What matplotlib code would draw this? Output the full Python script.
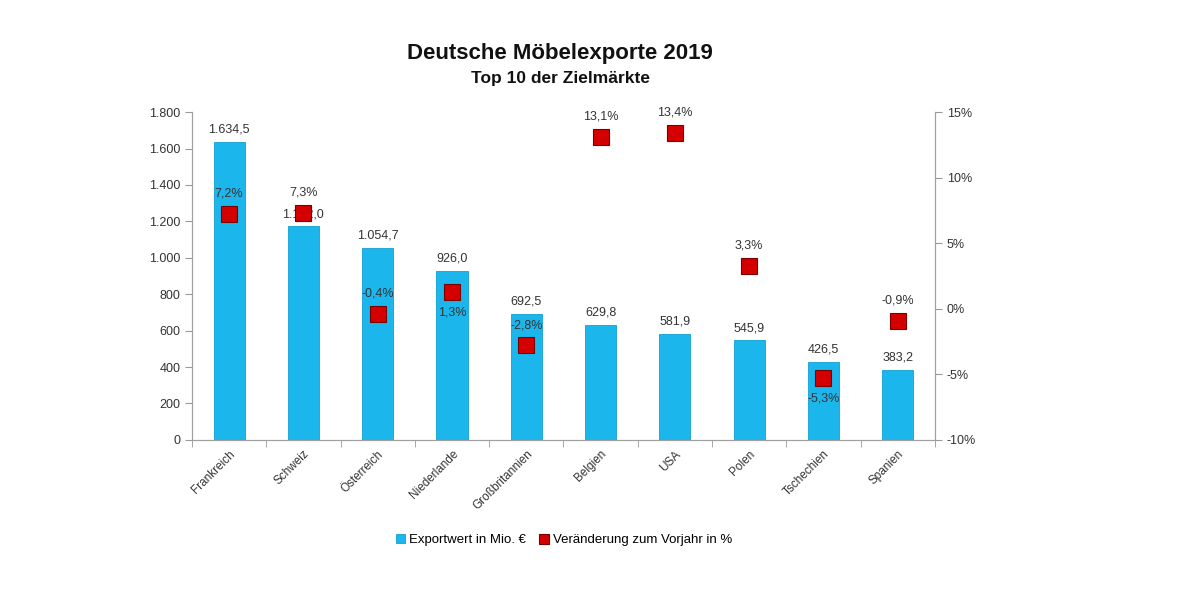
import numpy as np
import matplotlib.pyplot as plt
from matplotlib.ticker import FuncFormatter

plt.rcParams['font.family'] = ['Liberation Sans', 'DejaVu Sans']

# Daten
laender = ["Frankreich", "Schweiz", "Österreich", "Niederlande", "Großbritannien",
           "Belgien", "USA", "Polen", "Tschechien", "Spanien"]
exportwert = [1634.5, 1172.0, 1054.7, 926.0, 692.5, 629.8, 581.9, 545.9, 426.5, 383.2]
veraenderung = [7.2, 7.3, -0.4, 1.3, -2.8, 13.1, 13.4, 3.3, -5.3, -0.9]
label_unten = ["Niederlande", "Tschechien"]

def de_num(v, dec=1):
    s = f"{v:,.{dec}f}"
    return s.replace(",", "X").replace(".", ",").replace("X", ".")

fig = plt.figure(figsize=(12, 6), dpi=100)
ax = fig.add_axes([0.16, 0.267, 0.619, 0.546])
ax2 = ax.twinx()

x = np.arange(len(laender))
ax.bar(x, exportwert, width=0.42, color="#1AB6EC", edgecolor="#12A0D4",
       linewidth=0.6, zorder=2, label="Exportwert in Mio. €")
for xi, v in zip(x, exportwert):
    ax.text(xi, v + 35, de_num(v), ha="center", va="bottom", fontsize=9, color="#333333")

ax.set_ylim(0, 1800)
ax.set_yticks(np.arange(0, 1801, 200))
ax.yaxis.set_major_formatter(FuncFormatter(lambda v, p: de_num(v, 0)))
ax.set_xlim(-0.5, len(laender) - 0.5)
ax.set_xticks(x)
ax.set_xticklabels(laender, rotation=45, ha="right", rotation_mode="anchor",
                   fontsize=8.5, color="#333333")
ax.tick_params(axis="x", length=0, pad=6)
ax.set_xticks(np.arange(-0.5, len(laender)), minor=True)
ax.tick_params(axis="x", which="minor", length=5, color="#999999", direction="out")
ax.tick_params(axis="y", labelsize=9, colors="#333333", length=5, color="#999999")

ax2.plot(x, veraenderung, linestyle="none", marker="s", markersize=12,
         markerfacecolor="#D40000", markeredgecolor="#7A0000", markeredgewidth=0.8,
         zorder=3, label="Veränderung zum Vorjahr in %")
for xi, v, land in zip(x, veraenderung, laender):
    txt = de_num(v) + "%"
    if land in label_unten:
        ax2.text(xi, v - 1.1, txt, ha="center", va="top", fontsize=9, color="#333333")
    else:
        ax2.text(xi, v + 1.1, txt, ha="center", va="bottom", fontsize=9, color="#333333")
ax2.set_ylim(-10, 15)
ax2.set_yticks(np.arange(-10, 16, 5))
ax2.yaxis.set_major_formatter(FuncFormatter(lambda v, p: f"{v:.0f}%"))
ax2.tick_params(axis="y", labelsize=9, colors="#333333", length=5, color="#999999")

for a in (ax, ax2):
    a.spines["top"].set_visible(False)
    for s in ("left", "right", "bottom"):
        a.spines[s].set_color("#A0A0A0")

fig.text(0.467, 0.91, "Deutsche Möbelexporte 2019", ha="center", va="center",
         fontsize=16, fontweight="bold", color="#111111")
fig.text(0.467, 0.869, "Top 10 der Zielmärkte", ha="center", va="center",
         fontsize=12.5, fontweight="bold", color="#111111")

h1, l1 = ax.get_legend_handles_labels()
h2, l2 = ax2.get_legend_handles_labels()
fig.legend(h1 + h2, l1 + l2, loc="center", bbox_to_anchor=(0.47, 0.1), ncol=2,
           frameon=False, fontsize=9.5, handlelength=0.7, handletextpad=0.3,
           columnspacing=1.0, markerscale=0.6)

fig.savefig("out.png", dpi=100)
